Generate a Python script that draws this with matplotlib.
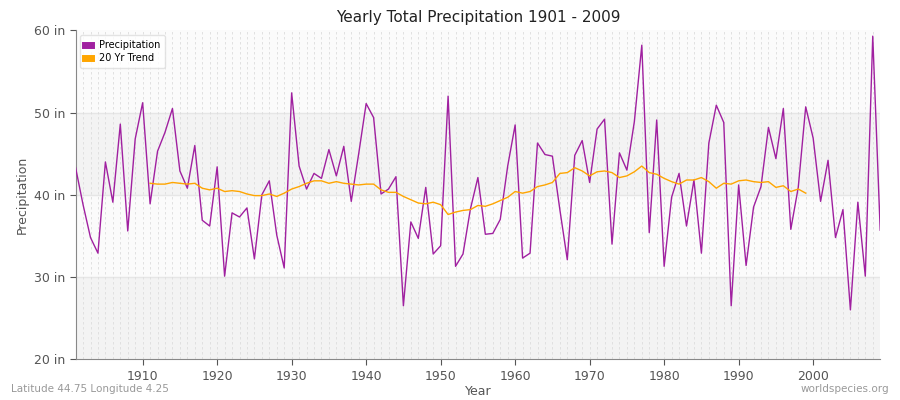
import matplotlib
matplotlib.use("Agg")
import matplotlib.pyplot as plt
import numpy as np

years = list(range(1901, 2010))
precip = [43.3,38.8,34.8,32.9,44.0,39.1,48.6,35.6,46.8,51.2,
          38.9,45.3,47.6,50.5,42.9,40.8,46.0,36.9,36.2,43.4,
          30.1,37.8,37.3,38.4,32.2,40.0,41.7,35.1,31.1,52.4,
          43.5,40.7,42.6,42.0,45.5,42.3,45.9,39.2,45.0,51.1,
          49.4,40.1,40.7,42.2,26.5,36.7,34.7,40.9,32.8,33.8,
          52.0,31.3,32.8,38.3,42.1,35.2,35.3,37.0,43.5,48.5,
          32.3,32.9,46.3,44.9,44.7,38.2,32.1,44.8,46.6,41.5,
          48.0,49.2,34.0,45.1,43.0,48.9,58.2,35.4,49.1,31.3,
          39.7,42.6,36.2,41.8,32.9,46.3,50.9,48.8,26.5,41.2,
          31.4,38.5,41.0,48.2,44.4,50.5,35.8,40.9,50.7,46.9,
          39.2,44.2,34.8,38.2,26.0,39.1,30.1,59.3,35.7]
trend_years = list(range(1911, 2000))
trend = [41.4,41.3,41.3,41.5,41.4,41.3,41.4,40.8,40.6,40.8,
         40.4,40.5,40.4,40.1,39.9,39.9,40.1,39.8,40.2,40.7,
         41.0,41.4,41.7,41.7,41.4,41.6,41.4,41.3,41.2,41.3,
         41.3,40.6,40.3,40.3,39.8,39.4,39.0,38.9,39.1,38.8,
         37.6,37.9,38.1,38.2,38.7,38.6,38.9,39.3,39.7,40.4,
         40.2,40.4,41.0,41.2,41.5,42.6,42.7,43.3,42.9,42.3,
         42.8,42.9,42.7,42.1,42.3,42.8,43.5,42.7,42.5,42.0,
         41.6,41.3,41.8,41.8,42.1,41.6,40.8,41.4,41.3,41.7,
         41.8,41.6,41.5,41.6,40.9,41.1,40.4,40.7,40.2]
yticks = [20, 30, 40, 50, 60]
xticks = [1910, 1920, 1930, 1940, 1950, 1960, 1970, 1980, 1990, 2000]

fig = plt.figure(figsize=(9, 4), dpi=100)
ax = fig.add_axes([0.084, 0.102, 0.894, 0.822])
ax.set_xlim(1901, 2009)
ax.set_ylim(20, 60)
for i, (a, b) in enumerate(zip(yticks[:-1], yticks[1:])):
    ax.axhspan(a, b, color="#f3f3f3" if i % 2 == 0 else "#fbfbfb", zorder=0, lw=0)
for y in yticks[1:-1]:
    ax.axhline(y, color="#e6e6e6", lw=1, zorder=1)
for yr in years:
    ax.axvline(yr, color="#dddddd", lw=0.6, ls=(0, (3, 3)), zorder=1)
ax.plot(years, precip, color="#a020a0", lw=1, zorder=3, label="Precipitation")
ax.plot(trend_years, trend, color="#ffa500", lw=1, zorder=3, label="20 Yr Trend")
ax.set_xticks(xticks)
ax.set_yticks(yticks)
ax.set_yticklabels([f"{v} in" for v in yticks])
ax.tick_params(colors="#555555", labelsize=9, length=4)
for s in ["top", "right"]:
    ax.spines[s].set_visible(False)
ax.spines["bottom"].set_color("#888888")
ax.spines["left"].set_color("#888888")
ax.set_title("Yearly Total Precipitation 1901 - 2009", fontsize=11, color="#222222")
ax.set_xlabel("Year", color="#555555", fontsize=9, labelpad=2)
ax.set_ylabel("Precipitation", color="#555555", fontsize=9)
leg = ax.legend(loc="upper left", fontsize=7, frameon=True, handlelength=0.6,
                handleheight=0.6, borderpad=0.5, labelspacing=0.3)
for h in leg.legend_handles:
    h.set_linewidth(5)
leg.get_frame().set_edgecolor("#dddddd")
fig.text(0.012, 0.02, "Latitude 44.75 Longitude 4.25", fontsize=7.5, color="#999999")
fig.text(0.988, 0.02, "worldspecies.org", fontsize=7.5, color="#999999", ha="right")
fig.savefig("out.png")
